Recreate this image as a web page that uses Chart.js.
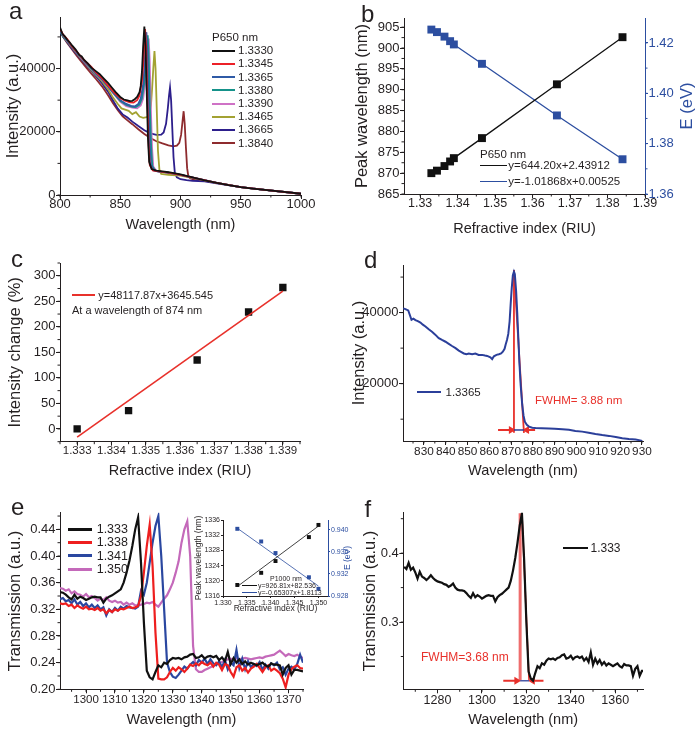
<!DOCTYPE html>
<html>
<head>
<meta charset="utf-8">
<script src="https://cdn.jsdelivr.net/npm/chart.js@4.4.1/dist/chart.umd.min.js"></script>
<style>
html,body{margin:0;padding:0;background:#fff}
#fig{position:relative;width:698px;height:736px;overflow:hidden;background:#fff;font-family:"Liberation Sans",Arial,Helvetica,sans-serif;color:#231f20}
#fig canvas{position:absolute}
.t{position:absolute;white-space:nowrap;line-height:1}
.l{position:absolute}
</style>
</head>
<body>
<div id="fig">
<canvas id="cA" width="350" height="240" style="left:0;top:0"></canvas>
<canvas id="cB" width="348" height="240" style="left:350px;top:0"></canvas>
<canvas id="cC" width="350" height="244" style="left:0;top:240px"></canvas>
<canvas id="cD" width="348" height="244" style="left:350px;top:240px"></canvas>
<canvas id="cE" width="350" height="260" style="left:0;top:476px"></canvas>
<canvas id="cF" width="348" height="260" style="left:350px;top:476px"></canvas>
<canvas id="cI" width="170" height="116" style="left:185px;top:500px"></canvas>
</div>
<script>
// ---------------- DATA ----------------
// Panel a: spectra for P650 nm at several refractive indices
const aLabels = ['1.3330','1.3345','1.3365','1.3380','1.3390','1.3465','1.3665','1.3840'];
const aX1 = [800,802,804,806,808,810,813,816,818,820,823,826,830,833,836,840,843,846,850,853,856,858,860,862,864,866,867,868,869,870,871,872,873,874,876,880,885,890,900,910,920,930,940,950,960,970,980,990,1000];
const aY1 = [53000,51000,50200,49100,48300,47300,46000,44300,43800,42700,41600,40300,39100,38200,37000,35400,34000,32600,31000,30200,29900,29700,29800,30300,31000,32500,34500,39000,47000,53300,47000,32000,18000,10500,8200,7700,7500,7200,6500,5600,4600,3800,3100,2500,2000,1600,1200,800,400];
const aX2 = [800,803,806,810,814,818,822,826,830,835,840,845,850,854,858,861,864,866,868,869,870,870.6,871.5,872.5,873.5,874.5,877,882,890,900,915,930,950,970,1000];
const aY2 = [52500,50500,49300,47000,45300,43500,41900,40500,38700,36900,34600,32400,30700,29800,29300,29200,30000,31500,36000,41000,48000,52500,47000,30000,16000,9500,7800,7500,7100,6400,5100,3800,2500,1600,400];
const aX3 = [800,803,806,810,814,818,822,826,830,835,840,845,850,855,859,862,865,867,869,870,871,871.7,872.5,873.5,874.5,875.5,878,882,890,900,915,930,950,970,1000];
const aY3 = [52000,50300,48900,46900,45000,43300,41600,40100,38400,36600,34400,32100,30000,28800,28200,28000,28800,30500,35000,40000,47000,51500,45000,29000,16000,9500,7700,7400,7100,6400,5100,3800,2500,1600,400];
const aX4 = [800,803,806,810,814,818,822,826,830,835,840,845,850,855,860,863,866,868,870,871,872,872.8,873.6,874.6,875.6,876.6,879,883,890,900,915,930,950,970,1000];
const aY4 = [51800,50000,48800,46800,45100,43400,41700,40000,38300,36500,34300,32000,29800,28500,27900,27800,28600,30500,35500,40500,46500,50500,44000,28000,15500,9200,7600,7400,7100,6400,5100,3800,2500,1600,400];
const aX5 = [800,803,806,810,814,818,822,826,830,835,840,845,850,855,860,864,867,869,871,872,873,873.6,874.4,875.4,876.4,877.4,880,884,890,900,915,930,950,970,1000];
const aY5 = [52200,50200,48700,46900,45000,43200,41500,39900,38200,36300,34100,31800,29500,28100,27600,27400,28300,30500,36000,41000,46500,49500,43000,27500,15000,9000,7600,7300,7000,6400,5100,3800,2500,1600,400];
const aX6 = [800,803,806,810,814,818,822,826,830,835,840,844,848,851,854,857,860,863,866,869,872,874,875.5,876.5,877.5,878.4,879.3,880.3,881.3,882.5,884,890,900,915,930,950,970,1000];
const aY6 = [52000,50000,48600,46700,44800,43000,41300,39600,37900,35900,33400,30800,28800,27400,27000,26600,25600,26200,24800,24400,24600,25300,28500,34000,40500,45500,40000,27000,14000,8000,6700,6400,6100,5000,3800,2500,1600,400];
const aX7 = [800,803,806,810,814,818,822,826,830,835,840,844,848,852,856,860,865,870,875,880,884,886,888,889.5,890.5,891.3,892.2,893.2,894.2,895.3,897,900,905,910,920,930,950,970,1000];
const aY7 = [51500,49800,48300,46300,44500,42700,41000,39300,37500,35300,32600,29900,27300,25500,24500,23200,21800,20500,19500,19000,19100,19800,22500,27500,31500,34000,30000,21000,12000,7000,5600,5000,4700,4500,4300,3700,2500,1600,400];
const aX8 = [800,803,806,810,814,818,822,826,830,835,840,844,848,852,856,860,865,870,875,880,885,890,894,897,899,900.5,901.6,902.6,903.5,904.5,905.5,906.5,908,910,920,930,950,970,1000];
const aY8 = [51800,49800,48100,46000,44000,42100,40200,38400,36600,34300,31500,29000,26800,24900,23600,22400,20800,19300,18000,17000,16300,15700,15400,15600,16500,19000,23000,26500,22500,15000,8500,6000,5300,5000,4500,3800,2500,1600,400];
const aTicksX = [800,850,900,950,1000];
const aTicksY = [0,20000,40000];

// Panel b: peak wavelength and photon energy vs refractive index
const bRI = [1.3330,1.3345,1.3365,1.3380,1.3390,1.3465,1.3665,1.3840];
const bPeak = [870.0,870.6,871.7,872.8,873.6,878.4,891.3,902.6];
const bE = [1.4253,1.4243,1.4225,1.4207,1.4194,1.4117,1.3912,1.3738];
const bTicksX = [1.33,1.34,1.35,1.36,1.37,1.38,1.39];
const bTicksY = [865,870,875,880,885,890,895,900,905];
const bTicksE = [1.36,1.38,1.40,1.42];
const bLegend = ['P650 nm','y=644.20x+2.43912','y=-1.01868x+0.00525'];

// Panel c: intensity change at 874 nm
const cRI = [1.3330,1.3345,1.3365,1.3380,1.3390];
const cChange = [0,36,135,229,277];
const cFitX = [1.333,1.339];
const cFitY = [-16,270];
const cTicksX = [1.333,1.334,1.335,1.336,1.337,1.338,1.339];
const cTicksY = [0,50,100,150,200,250,300];
const cLegend = ['y=48117.87x+3645.545','At a wavelength of 874 nm'];

// Panel d: spectrum at 1.3365 with FWHM marks
const dWl = [820.5,821.5,822.8,823.5,824.3,825.2,826.1,827.2,828.4,829.5,830.7,832.2,833.7,835.2,836.8,838.3,839.9,841.4,842.9,844.5,846,847.2,848.3,849.5,850.6,852.1,853.6,855.1,856.7,858,859,860.5,861.3,862.1,863.3,864.4,865.4,866.2,867,867.5,868.1,868.7,869.3,869.8,870.3,870.8,871.3,871.7,872.3,872.8,873.3,873.8,874.4,875.1,875.7,876.3,877.2,878.2,879.7,881.2,884,887.3,890,893.5,896.5,899.5,902.6,905.6,908.7,911.8,914.9,918,921,924,927.1,930.2];
const dInt = [41200,41000,40600,39400,38000,38300,37900,37600,37200,36600,36100,35300,34600,33800,32800,32300,31800,31200,30600,30000,29300,28900,28500,28300,28500,28300,28500,28100,28100,27900,27800,27400,26900,27700,28100,28300,28500,29000,29800,31000,32300,34000,37500,42500,47000,50500,51500,50800,46000,40000,33000,26000,19500,14000,11000,9300,8400,7900,7600,7500,7450,7400,7300,7200,7000,6700,6500,6200,5850,5550,5300,5000,4650,4450,4300,3900];
const dHalfX = [871.3,875.9];
const dHalfY = 6960;
const dTopY = 52000;
const dArrowX = [864,881];
const dTicksX = [830,840,850,860,870,880,890,900,910,920,930];
const dTicksY = [20000,40000];

// Panel e: transmission spectra (P1000 nm)
const eLabels = ['1.333','1.338','1.341','1.350'];
const wl1333 = [1265,1266,1267,1268,1269,1270,1271,1272,1273,1274,1275,1276,1277,1278,1279,1280,1281,1282,1283,1284,1285,1286,1287,1288,1289,1290,1291,1292,1293,1294,1295,1296,1297,1298,1299,1300,1301,1302,1303,1304,1305,1306,1307,1308,1309,1310,1311,1312,1313,1314,1315,1316,1317,1318,1319,1320,1321,1322,1323,1324,1325,1326,1327,1328,1329,1330,1331,1332,1333,1334,1335,1336,1337,1338,1339,1340,1341,1342,1343,1344,1345,1346,1347,1348,1349,1350,1351,1352,1353,1354,1355,1356,1357,1358,1359,1360,1361,1362,1363,1364,1365,1366,1367,1368,1369,1370,1371,1372,1373,1374,1375];
const tr1333 = [0.380,0.377,0.386,0.376,0.379,0.372,0.363,0.373,0.366,0.364,0.361,0.364,0.368,0.364,0.361,0.359,0.358,0.357,0.355,0.354,0.351,0.353,0.356,0.350,0.347,0.346,0.346,0.345,0.342,0.338,0.335,0.342,0.336,0.339,0.337,0.334,0.336,0.338,0.339,0.338,0.338,0.330,0.336,0.339,0.341,0.344,0.347,0.350,0.360,0.375,0.393,0.415,0.440,0.458,0.390,0.300,0.228,0.218,0.215,0.226,0.236,0.233,0.240,0.238,0.244,0.247,0.246,0.247,0.245,0.248,0.249,0.252,0.253,0.247,0.248,0.251,0.246,0.249,0.250,0.248,0.250,0.244,0.248,0.242,0.256,0.238,0.247,0.240,0.245,0.238,0.242,0.237,0.240,0.238,0.236,0.238,0.240,0.236,0.234,0.239,0.237,0.237,0.236,0.222,0.232,0.236,0.222,0.229,0.229,0.228,0.227];
const wlE = [1291,1292,1293,1294,1295,1296,1297,1298,1299,1300,1301,1302,1303,1304,1305,1306,1307,1308,1309,1310,1311,1312,1313,1314,1315,1316,1317,1318,1319,1320,1321,1322,1323,1324,1325,1326,1327,1328,1329,1330,1331,1332,1333,1334,1335,1336,1337,1338,1339,1340,1341,1342,1343,1344,1345,1346,1347,1348,1349,1350,1351,1352,1353,1354,1355,1356,1357,1358,1359,1360,1361,1362,1363,1364,1365,1366,1367,1368,1369,1370,1371,1372,1373,1374,1375];
const tr1338 = [0.329,0.328,0.329,0.325,0.327,0.322,0.326,0.323,0.321,0.324,0.320,0.321,0.319,0.322,0.318,0.320,0.314,0.319,0.316,0.320,0.318,0.321,0.320,0.322,0.324,0.322,0.323,0.325,0.340,0.375,0.415,0.447,0.385,0.285,0.216,0.215,0.215,0.218,0.226,0.232,0.228,0.233,0.230,0.226,0.231,0.237,0.235,0.239,0.236,0.241,0.238,0.236,0.240,0.234,0.240,0.237,0.229,0.238,0.236,0.226,0.219,0.233,0.236,0.228,0.232,0.225,0.231,0.234,0.238,0.232,0.226,0.233,0.236,0.228,0.231,0.228,0.224,0.216,0.203,0.222,0.230,0.234,0.236,0.232,0.231];
const tr1341 = [0.335,0.337,0.332,0.334,0.329,0.335,0.327,0.331,0.325,0.329,0.323,0.327,0.322,0.326,0.320,0.323,0.311,0.320,0.316,0.322,0.318,0.324,0.321,0.325,0.323,0.322,0.321,0.324,0.348,0.342,0.360,0.390,0.420,0.445,0.460,0.400,0.320,0.240,0.226,0.219,0.217,0.222,0.228,0.234,0.231,0.237,0.241,0.236,0.244,0.240,0.246,0.238,0.245,0.239,0.236,0.242,0.233,0.244,0.230,0.240,0.236,0.259,0.232,0.246,0.230,0.242,0.233,0.238,0.235,0.241,0.229,0.237,0.231,0.239,0.236,0.240,0.230,0.233,0.222,0.231,0.234,0.230,0.238,0.252,0.240];
const tr1350 = [0.352,0.351,0.348,0.350,0.344,0.347,0.343,0.342,0.339,0.343,0.338,0.340,0.337,0.333,0.336,0.334,0.338,0.333,0.331,0.333,0.330,0.331,0.327,0.330,0.327,0.329,0.326,0.326,0.327,0.328,0.330,0.329,0.331,0.327,0.324,0.330,0.336,0.341,0.350,0.360,0.375,0.392,0.420,0.440,0.452,0.400,0.265,0.230,0.226,0.226,0.229,0.231,0.233,0.235,0.237,0.240,0.241,0.243,0.245,0.246,0.244,0.247,0.245,0.246,0.247,0.246,0.245,0.246,0.247,0.248,0.247,0.249,0.250,0.251,0.252,0.255,0.258,0.254,0.250,0.253,0.251,0.250,0.252,0.249,0.247];
const eTicksX = [1300,1310,1320,1330,1340,1350,1360,1370];
const eTicksY = [0.20,0.24,0.28,0.32,0.36,0.40,0.44];

// Inset of panel e
const iRI = [1.333,1.338,1.341,1.348,1.350];
const iPeak = [1318.9,1322.1,1325.2,1331.5,1334.7];
const iE = [0.9402,0.9379,0.9358,0.9314,0.9293];
const iFitX = [1.333,1.350];
const iFitPeak = [1318.5,1334.4];
const iFitE = [0.9403,0.9298];
const iTicksX = [1.330,1.335,1.340,1.345,1.350];
const iTicksY = [1316,1320,1324,1328,1332,1336];
const iTicksE = [0.928,0.932,0.936,0.940];
const iLegend = ['P1000 nm','y=926.81x+82.536','y=-0.65307x+1.8113'];

// Panel f: 1.333 spectrum with FWHM
const fHalfX = [1317.2,1321.2];
const fPeakX = 1318;
const fHalfY = 0.2148;
const fTopY = 0.458;
const fArrowX = [1309.6,1327.7];
const fTicksX = [1280,1300,1320,1340,1360];
const fTicksY = [0.3,0.4];

// ---------------- HELPERS ----------------
const FONT = '"Liberation Sans", Arial, Helvetica, sans-serif';
const INK = '#231f20';
const BLUE = '#2c4ea0';
const RED = '#e8312b';
const aColors = ['#111111','#ec2027','#2f5aa6','#15928a','#cf72c6','#a3a232','#2d1f8c','#8e2b2e'];
const eColors = ['#111111','#ee1f1f','#2a47a0','#c469ba'];

const zip = (xs, ys) => xs.map((x, i) => ({x: x, y: Array.isArray(ys) ? ys[i] : ys}));

function axis(o) {
  const col = o.color || INK;
  return {
    type: 'linear', position: o.pos, min: o.min, max: o.max,
    afterBuildTicks: s => { s.ticks = o.ticks.map(v => ({value: v})); },
    afterFit: s => { if (o.pos === 'bottom') s.height = o.size; else s.width = o.size; },
    border: {display: true, color: col, width: 1},
    grid: {display: true, drawOnChartArea: false, drawTicks: true, tickLength: o.tl || 4, color: col, tickWidth: 1},
    ticks: {color: col, padding: (o.tp == null ? 0.5 : o.tp), maxRotation: 0, minRotation: 0, autoSkip: false,
      font: {family: FONT, size: o.fs || 13},
      callback: v => (o.dec == null ? String(v) : Number(v).toFixed(o.dec))},
    title: o.title ? {display: true, text: o.title, color: col, font: {family: FONT, size: o.ts},
      padding: o.pos === 'bottom' ? {top: 0, bottom: o.pad} : {top: o.pad, bottom: 0}} : {display: false}
  };
}

const minorPlugin = {
  id: 'minor',
  afterDraw(chart, args, opts) {
    const defs = (opts && opts.defs) || [];
    const ctx = chart.ctx;
    defs.forEach(d => {
      const s = chart.scales[d.axis];
      if (!s) return;
      ctx.save();
      ctx.strokeStyle = d.color || INK;
      ctx.lineWidth = 1;
      const len = d.len || 2.5;
      const k0 = Math.ceil(s.min / d.step - 1e-6);
      for (let k = k0; k * d.step <= s.max + d.step * 1e-6; k++) {
        const p = s.getPixelForValue(k * d.step);
        ctx.beginPath();
        if (s.isHorizontal()) { ctx.moveTo(p, s.top); ctx.lineTo(p, s.top + len); }
        else if (s.position === 'right') { ctx.moveTo(s.left, p); ctx.lineTo(s.left + len, p); }
        else { ctx.moveTo(s.right, p); ctx.lineTo(s.right - len, p); }
        ctx.stroke();
      }
      ctx.restore();
    });
  }
};

const rTitlePlugin = {
  id: 'rtitle',
  afterDraw(chart, args, o) {
    if (!o || !o.text) return;
    const ctx = chart.ctx, ca = chart.chartArea;
    ctx.save();
    ctx.translate(o.x, (ca.top + ca.bottom) / 2);
    ctx.rotate(-Math.PI / 2);
    ctx.font = o.size + 'px ' + FONT;
    ctx.fillStyle = o.color;
    ctx.textAlign = 'center';
    ctx.textBaseline = 'middle';
    ctx.fillText(o.text, 0, 0);
    ctx.restore();
  }
};

function make(id, datasets, scales, pad, plug) {
  return new Chart(document.getElementById(id), {
    type: 'line',
    data: {datasets: datasets},
    options: {
      responsive: false, animation: false, devicePixelRatio: 1, events: [],
      layout: {autoPadding: false, padding: pad},
      scales: scales,
      plugins: Object.assign({legend: {display: false}, tooltip: {enabled: false}}, plug || {})
    },
    plugins: [minorPlugin, rTitlePlugin]
  });
}

function curve(xs, ys, color, w, extra) {
  return Object.assign({data: zip(xs, ys), borderColor: color, backgroundColor: color, borderWidth: w,
    pointRadius: 0, tension: 0, fill: false}, extra || {});
}
function markers(xs, ys, color, r, lineW, extra) {
  return Object.assign({data: zip(xs, ys), borderColor: color, backgroundColor: color, borderWidth: lineW,
    showLine: lineW > 0, pointStyle: 'rect', pointRadius: r, pointBackgroundColor: color, pointBorderColor: color,
    pointBorderWidth: 0, tension: 0, fill: false}, extra || {});
}
function arrow(x0, x1, y, color, rot, extra) {
  return Object.assign({data: zip([x0, x1], y), borderColor: color, backgroundColor: color, borderWidth: 2,
    pointStyle: 'triangle', pointRadius: [0, 4.5], rotation: rot, pointBackgroundColor: color,
    pointBorderColor: color, pointBorderWidth: 0, fill: false}, extra || {});
}

// ---------------- PANEL A ----------------
const aXs = [aX1, aX2, aX3, aX4, aX5, aX6, aX7, aX8];
const aYs = [aY1, aY2, aY3, aY4, aY5, aY6, aY7, aY8];
make('cA', aXs.map((xs, i) => curve(xs, aYs[i], aColors[i], 1.8)), {
  x: axis({pos: 'bottom', min: 800, max: 1000, ticks: aTicksX, size: 45, tp: -2, title: 'Wavelength (nm)', ts: 14.5, pad: 6.3}),
  y: axis({pos: 'left', min: 0, max: 56300, ticks: aTicksY, size: 60, title: 'Intensity (a.u.)', ts: 16.5, pad: 4})
}, {top: 17, right: 49, left: 0, bottom: 0}, {minor: {defs: [{axis: 'x', step: 25}, {axis: 'y', step: 10000}]}});

// ---------------- PANEL B ----------------
make('cB', [
  markers(bRI, bPeak, '#111111', 5.6, 1.3, {yAxisID: 'y'}),
  markers(bRI, bE, BLUE, 5.6, 1.3, {yAxisID: 'y1'})
], {
  x: axis({pos: 'bottom', min: 1.3257, max: 1.39, ticks: bTicksX, dec: 2, size: 46, tp: -1.5, fs: 12.5, title: 'Refractive index (RIU)', ts: 14.5, pad: 2.5}),
  y: axis({pos: 'left', min: 865, max: 907.2, ticks: bTicksY, size: 54, title: 'Peak wavelength (nm)', ts: 16.5, pad: 2.5}),
  y1: axis({pos: 'right', min: 1.36, max: 1.4299, ticks: bTicksE, dec: 2, size: 53, tl: 3, color: BLUE})
}, {top: 18, right: 0, left: 0, bottom: 0}, {
  minor: {defs: [{axis: 'x', step: 0.005}, {axis: 'y', step: 2.5}, {axis: 'y1', step: 0.01, color: BLUE}]},
  rtitle: {text: 'E (eV)', x: 337, size: 16.5, color: BLUE}
});

// ---------------- PANEL C ----------------
make('cC', [
  curve(cFitX, cFitY, RED, 1.6),
  markers(cRI, cChange, '#111111', 5.2, 0)
], {
  x: axis({pos: 'bottom', min: 1.3325, max: 1.3395, ticks: cTicksX, dec: 3, size: 42.3, tp: -1.5, fs: 11.5, title: 'Refractive index (RIU)', ts: 14.5, pad: 4.5}),
  y: axis({pos: 'left', min: -25, max: 325, ticks: cTicksY, size: 60, title: 'Intensity change (%)', ts: 16.5, pad: 6})
}, {top: 23, right: 50, left: 0, bottom: 0}, {minor: {defs: [{axis: 'x', step: 0.0005}, {axis: 'y', step: 25}]}});

// ---------------- PANEL D ----------------
make('cD', [
  curve(dWl, dInt, '#2b3f9a', 2),
  curve(dHalfX, dHalfY, '#2b3f9a', 1.5),
  curve([dHalfX[0], dHalfX[0]], [dHalfY - 800, dTopY], RED, 1.8),
  curve([dHalfX[0], dHalfX[1]], [dTopY, dHalfY - 800], RED, 1.8),
  arrow(dArrowX[0], dHalfX[0] - 1.3, dHalfY, RED, 90),
  arrow(dArrowX[1], dHalfX[1] + 1.3, dHalfY, RED, -90)
], {
  x: axis({pos: 'bottom', min: 820.4, max: 930.5, ticks: dTicksX, size: 43, tp: -0.5, fs: 11.8, title: 'Wavelength (nm)', ts: 14.5, pad: 4.5}),
  y: axis({pos: 'left', min: 3860, max: 53400, ticks: dTicksY, size: 53, title: 'Intensity (a.u.)', ts: 16.5, pad: 0})
}, {top: 25, right: 55, left: 0, bottom: 0}, {minor: {defs: [{axis: 'x', step: 5}, {axis: 'y', step: 10000}]}});

// ---------------- PANEL E ----------------
const eXs = [wl1333, wlE, wlE, wlE];
const eYs = [tr1333, tr1338, tr1341, tr1350];
make('cE', eXs.map((xs, i) => curve(xs, eYs[i], eColors[i], 2.2)), {
  x: axis({pos: 'bottom', min: 1291, max: 1375, ticks: eTicksX, size: 46.7, tp: 0, fs: 11.5, title: 'Wavelength (nm)', ts: 14.5, pad: 7.5}),
  y: axis({pos: 'left', min: 0.2, max: 0.465, ticks: eTicksY, dec: 2, size: 60, title: 'Transmission (a.u.)', ts: 16.5, pad: 5.5})
}, {top: 36.7, right: 47, left: 0, bottom: 0}, {minor: {defs: [{axis: 'x', step: 5}, {axis: 'y', step: 0.02}]}});

// inset
make('cI', [
  curve(iFitX, iFitPeak, '#111111', 0.8, {yAxisID: 'y'}),
  curve(iFitX, iFitE, BLUE, 0.8, {yAxisID: 'y1'}),
  markers(iRI, iPeak, '#111111', 2.8, 0, {yAxisID: 'y'}),
  markers(iRI, iE, BLUE, 2.8, 0, {yAxisID: 'y1'})
], {
  x: axis({pos: 'bottom', min: 1.330, max: 1.352, ticks: iTicksX, dec: 3, size: 20, fs: 7, tl: 2, tp: 1, title: 'Refractive index (RIU)', ts: 8.5, pad: 2.5}),
  y: axis({pos: 'left', min: 1316, max: 1336, ticks: iTicksY, size: 38, fs: 7, tl: 2, tp: 1, title: 'Peak wavelength (nm)', ts: 8.5, pad: 9}),
  y1: axis({pos: 'right', min: 0.928, max: 0.9418, ticks: iTicksE, dec: 3, size: 27, fs: 7, tl: 2, tp: 1, color: BLUE})
}, {top: 20, right: 0, left: 0, bottom: 0}, {rtitle: {text: 'E (eV)', x: 163, size: 8.5, color: BLUE}});

// ---------------- PANEL F ----------------
make('cF', [
  curve(wl1333, tr1333, '#111111', 2.2),
  curve(fHalfX, fHalfY, '#4a5aa8', 1.5),
  curve([fHalfX[0], fHalfX[0]], [fHalfY, fTopY], 'rgba(232,60,60,0.75)', 3),
  curve([fPeakX, fHalfX[1]], [fTopY, fHalfY], RED, 1.6),
  arrow(fArrowX[0], fHalfX[0] - 1.6, fHalfY, RED, 90),
  arrow(fArrowX[1], fHalfX[1] + 1.6, fHalfY, RED, -90)
], {
  x: axis({pos: 'bottom', min: 1264.6, max: 1372.5, ticks: fTicksX, size: 46.7, tp: -0.5, fs: 12.5, title: 'Wavelength (nm)', ts: 14.5, pad: 7.5}),
  y: axis({pos: 'left', min: 0.2024, max: 0.4587, ticks: fTicksY, dec: 1, size: 53.3, title: 'Transmission (a.u.)', ts: 16.5, pad: 11})
}, {top: 36.7, right: 55, left: 0, bottom: 0}, {minor: {defs: [{axis: 'x', step: 10}, {axis: 'y', step: 0.05}]}});

// ---------------- TEXT OVERLAYS ----------------
const fig = document.getElementById('fig');
function txt(x, yc, s, size, color) {
  const d = document.createElement('div');
  d.className = 't';
  d.textContent = s;
  d.style.left = x + 'px';
  d.style.top = (yc - 0.4865 * size) + 'px';
  d.style.fontSize = size + 'px';
  d.style.color = color || INK;
  fig.appendChild(d);
  return d;
}
function letter(x, base, s) {
  const d = document.createElement('div');
  d.className = 't';
  d.textContent = s;
  d.style.left = x + 'px';
  d.style.top = (base - 0.8465 * 24) + 'px';
  d.style.fontSize = '24px';
  d.style.color = INK;
  fig.appendChild(d);
}
function seg(x1, x2, yc, color, th) {
  const d = document.createElement('div');
  d.className = 'l';
  d.style.left = x1 + 'px';
  d.style.width = (x2 - x1) + 'px';
  d.style.top = (yc - th / 2) + 'px';
  d.style.height = th + 'px';
  d.style.background = color;
  fig.appendChild(d);
}

letter(9, 19, 'a');
letter(361, 22, 'b');
letter(11, 267, 'c');
letter(364, 268, 'd');
letter(11, 515, 'e');
letter(364.5, 517, 'f');

// legend a
txt(212, 37.3, 'P650 nm', 11.5);
aLabels.forEach((lab, i) => {
  const yc = 50.7 + 13.2 * i;
  seg(212, 235, yc, aColors[i], 2);
  txt(238, yc, lab, 11.5);
});

// legend b
txt(480, 154.3, bLegend[0], 11.5);
seg(480, 506.7, 165.7, '#111111', 1.5);
txt(508.3, 165.7, bLegend[1], 11.5);
seg(480, 506.7, 181.7, BLUE, 1.5);
txt(508.3, 181.7, bLegend[2], 11.5);

// legend c
seg(72, 95, 295, RED, 1.6);
txt(98.3, 295, cLegend[0], 11);
txt(72, 310, cLegend[1], 11);

// legend d
seg(417, 441, 392.3, '#2b3f9a', 2);
txt(445.5, 392.3, '1.3365', 11.5);
txt(535, 400.7, 'FWHM= 3.88 nm', 11.5, RED);

// legend e
eLabels.forEach((lab, i) => {
  const yc = 529.3 + 13.25 * i;
  seg(68.3, 91.7, yc, eColors[i], 3);
  txt(96.7, yc, lab, 12.5);
});

// inset legend
txt(270, 578, iLegend[0], 7);
seg(241.7, 256.7, 585, '#111111', 0.8);
txt(258, 585, iLegend[1], 7);
seg(241.7, 256.7, 592, BLUE, 0.8);
txt(258, 592, iLegend[2], 7);

// legend f
seg(563.3, 588.3, 548.3, '#111111', 2);
txt(590.5, 548.3, '1.333', 12);
txt(421, 656.7, 'FWHM=3.68 nm', 12, RED);
</script>
</body>
</html>
